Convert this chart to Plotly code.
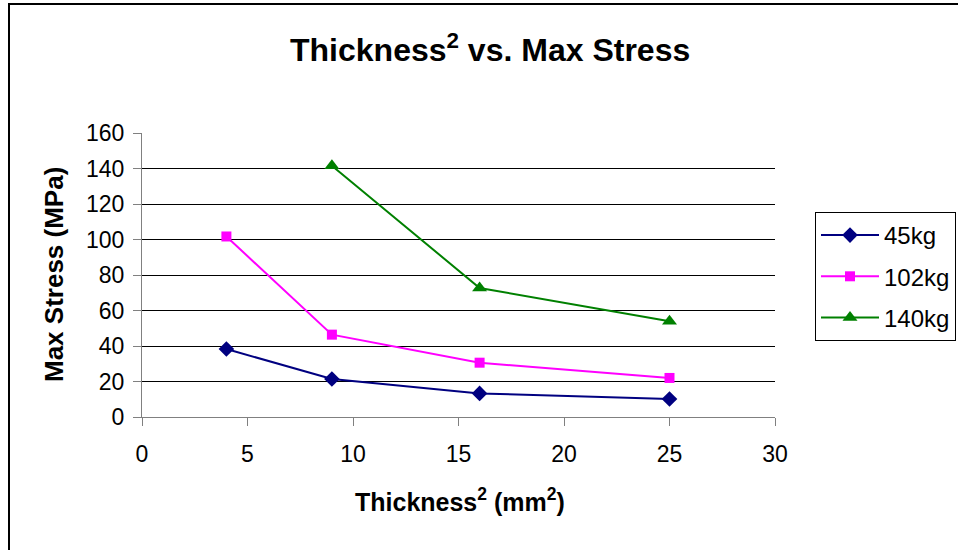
import plotly.graph_objects as go

# Thickness squared (mm^2) and max stress (MPa) per load
thickness_sq = [4, 9, 16, 25]
stress_45kg = [38.3, 21.4, 13.3, 10.1]
stress_102kg = [101.7, 46.4, 30.6, 22.0]
thickness_sq_140 = [9, 16, 25]
stress_140kg = [141.5, 72.7, 53.9]

series = [
    ("45kg", thickness_sq, stress_45kg, "#000080", "diamond", 12),
    ("102kg", thickness_sq, stress_102kg, "#FF00FF", "square", 10),
    ("140kg", thickness_sq_140, stress_140kg, "#008000", "triangle-up", 13),
]

FONT = "Arial, 'Liberation Sans', sans-serif"

fig = go.Figure()
for i, (name, xs, ys, color, symbol, size) in enumerate(series):
    fig.add_trace(go.Scatter(
        x=xs, y=ys, name=name, mode="lines+markers",
        line=dict(color=color, width=2),
        marker=dict(symbol=symbol, size=size, color=color, line=dict(width=0)),
        legendgroup=f"g{i}",
    ))

L, R, T, B = 142, 775, 133, 417
W, H = 958, 550

fig.update_layout(
    width=W, height=H,
    margin=dict(l=L, r=W - R, t=T, b=H - B, pad=0, autoexpand=False),
    paper_bgcolor="white", plot_bgcolor="white",
    font=dict(family=FONT, size=23, color="black"),
    showlegend=True,
    legend=dict(
        x=(815 - L) / (R - L), y=(B - 212) / (B - T),
        xanchor="left", yanchor="top",
        bordercolor="black", borderwidth=1, bgcolor="white",
        font=dict(family=FONT, size=24, color="black"),
        traceorder="grouped", tracegroupgap=7,
        itemwidth=58,
    ),
    xaxis=dict(
        range=[0, 30], dtick=5, tick0=0,
        showgrid=False, zeroline=False,
        showline=True, linecolor="#808080", linewidth=1,
        ticks="outside", ticklen=8, tickcolor="#808080",
        tickfont=dict(size=23), ticklabelstandoff=8,
    ),
    yaxis=dict(
        range=[0, 160], dtick=20, tick0=0,
        showgrid=True, gridcolor="black", gridwidth=1,
        zeroline=False,
        showline=True, linecolor="#808080", linewidth=1,
        ticks="outside", ticklen=8, tickcolor="#808080",
        tickfont=dict(size=23), ticklabelstandoff=4,
    ),
    annotations=[
        dict(text="<b>Thickness<sup>2</sup> vs. Max Stress</b>",
             xref="paper", yref="paper",
             x=(490 - L) / (R - L), y=(B - 48) / (B - T),
             xanchor="center", yanchor="middle", showarrow=False,
             font=dict(size=32, family=FONT)),
        dict(text="<b>Thickness<sup>2</sup> (mm<sup>2</sup>)</b>",
             xref="paper", yref="paper",
             x=(460 - L) / (R - L), y=(B - 500) / (B - T),
             xanchor="center", yanchor="middle", showarrow=False,
             font=dict(size=25, family=FONT)),
        dict(text="<b>Max Stress (MPa)</b>",
             xref="paper", yref="paper",
             x=(54 - L) / (R - L), y=0.5, textangle=-90,
             xanchor="center", yanchor="middle", showarrow=False,
             font=dict(size=26, family=FONT)),
    ],
    shapes=[
        # chart-area frame
        dict(type="rect", xref="paper", yref="paper",
             x0=(9 - L) / (R - L), x1=(W + 20 - L) / (R - L),
             y0=(B - (H + 20)) / (B - T), y1=(B - 4) / (B - T),
             line=dict(color="black", width=2), layer="below"),
    ],
)

fig.write_html("out.html")
